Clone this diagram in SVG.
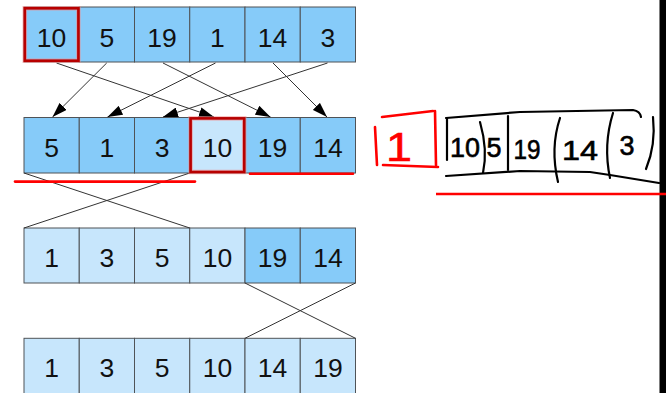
<svg xmlns="http://www.w3.org/2000/svg" width="666" height="393" viewBox="0 0 666 393">
  <style>
    .cell rect { stroke: #4f5357; stroke-width: 1; }
    .dark { fill: #86cbf9; }
    .light { fill: #c7e6fc; }
    .cell text { font-family: "Liberation Sans", Arial, sans-serif; font-size: 26.5px; fill: #111; text-anchor: middle; }
    .conn { stroke: #333; stroke-width: 1; fill: none; }
    .arrow { marker-end: url(#head); }
    .pick { fill: none; stroke: #b80000; stroke-width: 2.6; }
    .pickglow { fill: none; stroke: #f28a8a; stroke-width: 4.5; opacity: 0.6; }
    .mark { stroke: #ff0000; stroke-width: 2.6; fill: none; stroke-linecap: round; }
    .ink { stroke: #000; stroke-width: 2.2; fill: none; stroke-linecap: round; stroke-linejoin: round; }
    .inktext { font-family: "Liberation Sans", "DejaVu Sans", sans-serif; font-size: 27px; fill: #000; stroke: #000; stroke-width: 0.6; text-anchor: middle; }
  </style>
  <defs>
    <marker id="head" viewBox="0 0 15 10" refX="15" refY="5" markerWidth="15" markerHeight="10" markerUnits="userSpaceOnUse" orient="auto">
      <path d="M0,0 L15,5 L0,10 z" fill="#000"/>
    </marker>
  </defs>

  <rect width="666" height="393" fill="#fff"/>

  <!-- row 1: 10 5 19 1 14 3 -->
  <g id="r1c0" class="cell"><rect x="24" y="7" width="55.25" height="55" class="dark"/><text x="51.6" y="46.5">10</text></g>
  <g id="r1c1" class="cell"><rect x="79.25" y="7" width="55.25" height="55" class="dark"/><text x="106.9" y="46.5">5</text></g>
  <g id="r1c2" class="cell"><rect x="134.5" y="7" width="55.25" height="55" class="dark"/><text x="162.1" y="46.5">19</text></g>
  <g id="r1c3" class="cell"><rect x="189.75" y="7" width="55.25" height="55" class="dark"/><text x="217.4" y="46.5">1</text></g>
  <g id="r1c4" class="cell"><rect x="245" y="7" width="55.25" height="55" class="dark"/><text x="272.6" y="46.5">14</text></g>
  <g id="r1c5" class="cell"><rect x="300.25" y="7" width="55.25" height="55" class="dark"/><text x="327.9" y="46.5">3</text></g>

  <!-- row 2: 5 1 3 10 19 14 -->
  <g id="r2c0" class="cell"><rect x="24" y="117.5" width="55.25" height="55.5" class="dark"/><text x="51.6" y="156.7">5</text></g>
  <g id="r2c1" class="cell"><rect x="79.25" y="117.5" width="55.25" height="55.5" class="dark"/><text x="106.9" y="156.7">1</text></g>
  <g id="r2c2" class="cell"><rect x="134.5" y="117.5" width="55.25" height="55.5" class="dark"/><text x="162.1" y="156.7">3</text></g>
  <g id="r2c3" class="cell"><rect x="189.75" y="117.5" width="55.25" height="55.5" class="light"/><text x="217.4" y="156.7">10</text></g>
  <g id="r2c4" class="cell"><rect x="245" y="117.5" width="55.25" height="55.5" class="dark"/><text x="272.6" y="156.7">19</text></g>
  <g id="r2c5" class="cell"><rect x="300.25" y="117.5" width="55.25" height="55.5" class="dark"/><text x="327.9" y="156.7">14</text></g>

  <!-- row 3: 1 3 5 10 19 14 -->
  <g id="r3c0" class="cell"><rect x="24" y="228" width="55.25" height="55" class="light"/><text x="51.6" y="266.7">1</text></g>
  <g id="r3c1" class="cell"><rect x="79.25" y="228" width="55.25" height="55" class="light"/><text x="106.9" y="266.7">3</text></g>
  <g id="r3c2" class="cell"><rect x="134.5" y="228" width="55.25" height="55" class="light"/><text x="162.1" y="266.7">5</text></g>
  <g id="r3c3" class="cell"><rect x="189.75" y="228" width="55.25" height="55" class="light"/><text x="217.4" y="266.7">10</text></g>
  <g id="r3c4" class="cell"><rect x="245" y="228" width="55.25" height="55" class="dark"/><text x="272.6" y="266.7">19</text></g>
  <g id="r3c5" class="cell"><rect x="300.25" y="228" width="55.25" height="55" class="dark"/><text x="327.9" y="266.7">14</text></g>

  <!-- row 4: 1 3 5 10 14 19 -->
  <g id="r4c0" class="cell"><rect x="24" y="338.3" width="55.25" height="56" class="light"/><text x="51.6" y="377.3">1</text></g>
  <g id="r4c1" class="cell"><rect x="79.25" y="338.3" width="55.25" height="56" class="light"/><text x="106.9" y="377.3">3</text></g>
  <g id="r4c2" class="cell"><rect x="134.5" y="338.3" width="55.25" height="56" class="light"/><text x="162.1" y="377.3">5</text></g>
  <g id="r4c3" class="cell"><rect x="189.75" y="338.3" width="55.25" height="56" class="light"/><text x="217.4" y="377.3">10</text></g>
  <g id="r4c4" class="cell"><rect x="245" y="338.3" width="55.25" height="56" class="light"/><text x="272.6" y="377.3">14</text></g>
  <g id="r4c5" class="cell"><rect x="300.25" y="338.3" width="55.25" height="56" class="light"/><text x="327.9" y="377.3">19</text></g>

  <!-- connectors -->
  <g id="connectors">
    <line class="conn arrow" x1="56.5" y1="63" x2="214" y2="117"/>
    <line class="conn arrow" x1="106.7" y1="63" x2="52.5" y2="117"/>
    <line class="conn arrow" x1="163" y1="63" x2="270.5" y2="117"/>
    <line class="conn arrow" x1="215.5" y1="63" x2="107.5" y2="117"/>
    <line class="conn arrow" x1="273" y1="63" x2="327" y2="117"/>
    <line class="conn arrow" x1="327.5" y1="63" x2="163" y2="117"/>

    <line class="conn" x1="24" y1="173" x2="189.75" y2="228"/>
    <line class="conn" x1="189.75" y1="173" x2="24" y2="228"/>

    <line class="conn" x1="245" y1="283" x2="355.5" y2="338.3"/>
    <line class="conn" x1="355.5" y1="283" x2="245" y2="338.3"/>
  </g>

  <!-- pivot highlights -->
  <g id="pivot-marks">
    <rect class="pickglow" x="24.8" y="8.3" width="53.6" height="52.4"/>
    <rect class="pick" x="24.8" y="8.3" width="53.6" height="52.4"/>
    <rect class="pickglow" x="190.6" y="118.4" width="53.6" height="53.6"/>
    <rect class="pick" x="190.6" y="118.4" width="53.6" height="53.6"/>
  </g>

  <!-- underlines -->
  <g id="underlines">
    <line class="mark" x1="15" y1="181.6" x2="195" y2="181.6"/>
    <line class="mark" x1="250" y1="173.8" x2="353" y2="173.8"/>
  </g>

  <!-- handwritten note -->
  <g id="note-pivot">
    <path class="mark" d="M375,127 L377,165 M383,165 L438,167 M436,165 L435,111 M433,111 L382,117"/>
    <text x="399" y="161" font-family="Liberation Sans, sans-serif" font-size="40" fill="#ff0000" stroke="#ff0000" stroke-width="0.6" text-anchor="middle" textLength="26" lengthAdjust="spacingAndGlyphs">1</text>
  </g>
  <g id="note-array">
    <path class="ink" d="M446,118 L520,112 L633,110 Q640,111 641,117"/>
    <path class="ink" d="M447,118 L447,160"/>
    <path class="ink" d="M446,176 L520,171 L590,172 L610,175 L659,183"/>
    <path class="ink" d="M480,122 Q488,150 483,173"/>
    <path class="ink" d="M508,116 L508,170"/>
    <path class="ink" d="M560,118 Q550,148 558,182"/>
    <path class="ink" d="M613,113 Q603,145 610,178"/>
    <path class="ink" d="M653,117 Q656,145 646,169"/>
    <text class="inktext" x="465" y="157" textLength="30" lengthAdjust="spacingAndGlyphs">10</text>
    <text class="inktext" x="494" y="157" font-size="24">5</text>
    <text class="inktext" x="527" y="159" textLength="27" lengthAdjust="spacingAndGlyphs">19</text>
    <text class="inktext" x="580" y="160" textLength="36" lengthAdjust="spacingAndGlyphs">14</text>
    <text class="inktext" x="627" y="155" font-size="32">3</text>
  </g>

  <!-- right edge bar and long underline -->
  <rect x="659.5" y="0" width="6.5" height="393" fill="#000"/>
  <line x1="436" y1="194" x2="666" y2="194" stroke="#ff0000" stroke-width="2.6"/>
</svg>
